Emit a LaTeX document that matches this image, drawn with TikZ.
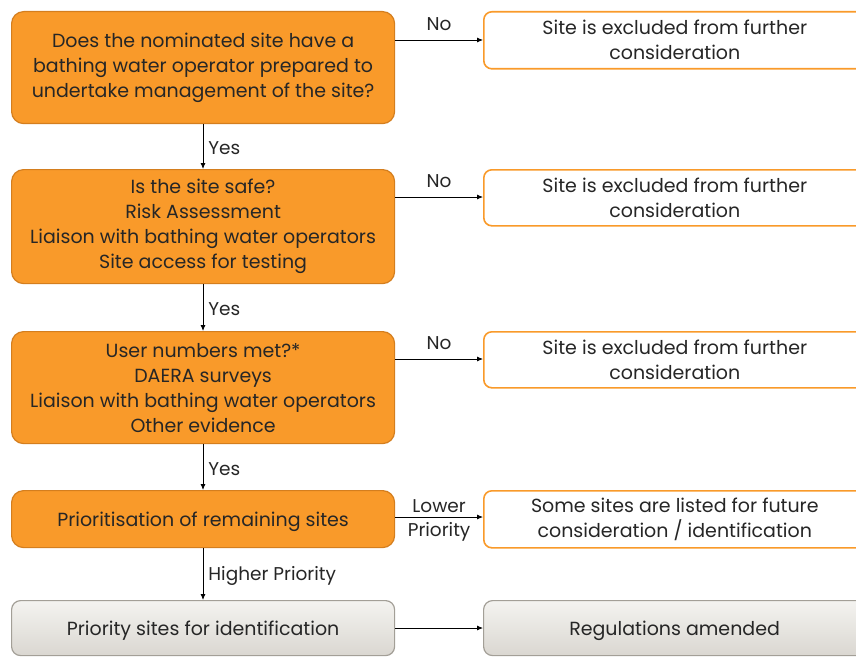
\documentclass[tikz,border=0pt]{standalone}
\usepackage{fontspec}
\setmainfont{Poppins}
\usetikzlibrary{arrows.meta,positioning}
\definecolor{qfill}{HTML}{F99A2A}
\definecolor{qline}{HTML}{D47E1E}
\definecolor{oline}{HTML}{F99A2A}
\definecolor{gtop}{HTML}{F4F3F0}
\definecolor{gbot}{HTML}{DAD7D1}
\definecolor{gline}{HTML}{A39F97}
\definecolor{txt}{HTML}{262626}
\tikzset{
  base/.style={text=txt, font=\fontsize{19}{25}\selectfont, align=center, anchor=north west, inner sep=0pt},
  qbox/.style={base, fill=qfill, draw=qline, line width=1.2pt, rounded corners=12pt},
  obox/.style={base, fill=white, draw=oline, line width=1.6pt, rounded corners=8pt},
  gbox/.style={base, top color=gtop, bottom color=gbot, draw=gline, line width=1.2pt, rounded corners=9pt},
  conn/.style={-{Latex[length=6pt,width=5pt]}, line width=0.8pt, draw=black},
  lbl/.style={text=txt, font=\fontsize{18.5}{26}\selectfont, inner sep=0pt, align=left}
}
\begin{document}
\begin{tikzpicture}[x=1pt,y=-1pt]
\useasboundingbox (0,0) rectangle (856,658);
\begin{scope}
\clip (0,0) rectangle (856,658);
% question column
\node[qbox, minimum width=383pt, minimum height=112pt] (q1) at (11,11)
  {Does the nominated site have a\\bathing water operator prepared to\\undertake management of the site?};
\node[qbox, minimum width=383pt, minimum height=114pt] (q2) at (11,169)
  {Is the site safe?\\Risk Assessment\\Liaison with bathing water operators\\Site access for testing};
\node[qbox, minimum width=383pt, minimum height=112pt] (q3) at (11,331)
  {User numbers met?*\\DAERA surveys\\Liaison with bathing water operators\\Other evidence};
\node[qbox, minimum width=383pt, minimum height=57pt] (q4) at (11,490)
  {\rule{0pt}{20pt}Prioritisation of remaining sites};
\node[gbox, minimum width=383pt, minimum height=55pt] (p) at (11,600)
  {\rule{0pt}{20pt}Priority sites for identification};
% outcome column
\node[obox, minimum width=382pt, minimum height=57pt] (e1) at (483,11)
  {Site is excluded from further\\consideration};
\node[obox, minimum width=382pt, minimum height=56pt] (e2) at (483,169)
  {Site is excluded from further\\consideration};
\node[obox, minimum width=382pt, minimum height=56pt] (e3) at (483,331)
  {Site is excluded from further\\consideration};
\node[obox, minimum width=382pt, minimum height=57pt] (e4) at (483,490)
  {Some sites are listed for future\\consideration / identification};
\node[gbox, minimum width=382pt, minimum height=55pt] (r) at (483,600)
  {\rule{0pt}{20pt}Regulations amended};
\end{scope}
% connectors
\draw[conn] (q1.east |- 0,40) -- (e1.west |- 0,40) node[lbl, midway, above=9pt] {No};
\draw[conn] (q2.east |- 0,197) -- (e2.west |- 0,197) node[lbl, midway, above=9pt] {No};
\draw[conn] (q3.east |- 0,359) -- (e3.west |- 0,359) node[lbl, midway, above=9pt] {No};
\draw[conn] (q4.east |- 0,517) -- (e4.west |- 0,517)
  node[lbl, midway, above=4pt] {Lower} node[lbl, midway, below=5pt] {Priority};
\draw[conn] (p.east |- 0,628) -- (r.west |- 0,628);
\draw[conn] (q1.south -| 203,0) -- (q2.north -| 203,0) node[lbl, midway, right=5pt, yshift=-2pt] {Yes};
\draw[conn] (q2.south -| 203,0) -- (q3.north -| 203,0) node[lbl, midway, right=5pt, yshift=-2pt] {Yes};
\draw[conn] (q3.south -| 203,0) -- (q4.north -| 203,0) node[lbl, midway, right=5pt, yshift=-2pt] {Yes};
\draw[conn] (q4.south -| 203,0) -- (p.north -| 203,0) node[lbl, midway, right=5pt, yshift=-2pt] {Higher Priority};
\end{tikzpicture}
\end{document}
